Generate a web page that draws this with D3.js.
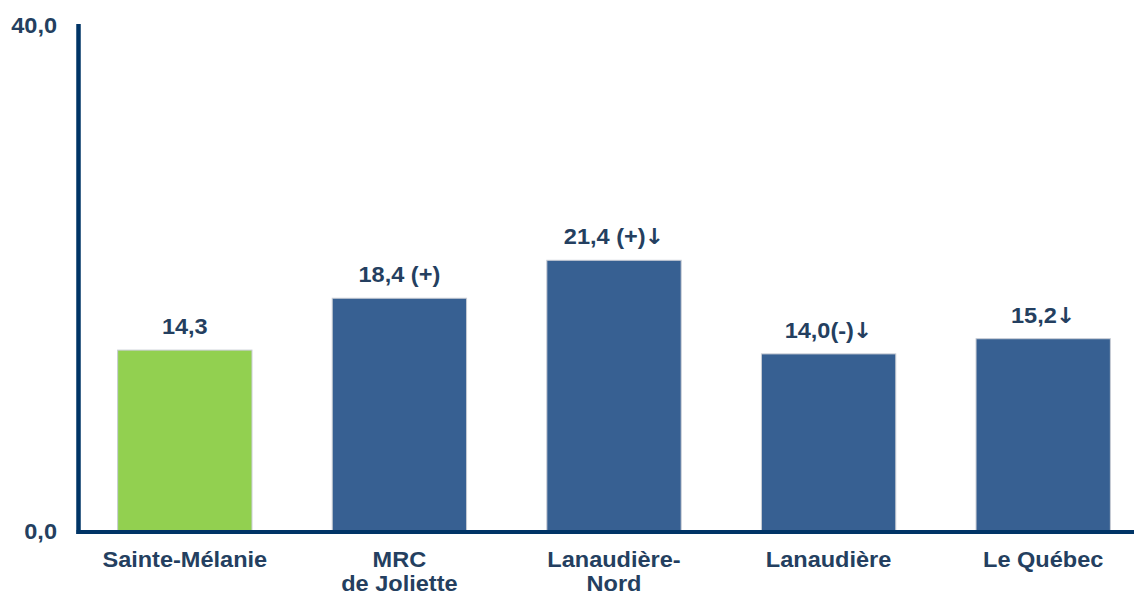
<!DOCTYPE html>
<html>
<head>
<meta charset="utf-8">
<script src="https://cdn.jsdelivr.net/npm/d3@7"></script>
<style>
  html, body { margin: 0; padding: 0; background: #fff; }
  svg { display: block; }
  text { font-family: "Liberation Sans", Arial, sans-serif; font-weight: bold; fill: #243F60; }
  tspan.arrow { font-family: "DejaVu Sans", sans-serif; font-weight: bold; }
</style>
</head>
<body>
<svg id="chart" width="1134" height="596"></svg>
<script>
const categories = [["Sainte-Mélanie"], ["MRC", "de Joliette"], ["Lanaudière-", "Nord"], ["Lanaudière"], ["Le Québec"]];
const values = [14.3, 18.4, 21.4, 14.0, 15.2];
const valueLabels = ["14,3", "18,4 (+)", "21,4 (+)", "14,0(-)", "15,2"];
const valueArrows = ["", "", "↓", "↓", "↓"];
const barColors = ["#92D050", "#376092", "#376092", "#376092", "#376092"];
const yTicks = [0, 40];

const W = 1134, H = 596;
const plot = { left: 79, right: 1149, top: 25, bottom: 531 };
const svg = d3.select("#chart");

const keys = categories.map(c => c.join(" "));
const x = d3.scaleBand().domain(keys).range([plot.left, plot.right]).paddingInner(0.374).paddingOuter(0.18);
const y = d3.scaleLinear().domain([0, 40]).range([plot.bottom, plot.top]);
const fmt = d3.formatLocale({ decimal: ",", thousands: " ", grouping: [3], currency: ["", "$"] }).format(".1f");

const data = keys.map((k, i) => ({ key: k, lines: categories[i], v: values[i], label: valueLabels[i], arrow: valueArrows[i], color: barColors[i] }));

// bars
svg.append("g").selectAll("rect").data(data).join("rect")
  .attr("x", d => x(d.key))
  .attr("y", d => y(d.v))
  .attr("width", x.bandwidth())
  .attr("height", d => y(0) - y(d.v))
  .attr("fill", d => d.color)
  .attr("stroke", "#C8CCD4")
  .attr("stroke-width", 1);

// value labels
const vl = svg.append("g").selectAll("text").data(data).join("text")
  .attr("transform", d => `translate(${x(d.key) + x.bandwidth() / 2},${y(d.v) - 16}) scale(1.07,1)`)
  .attr("text-anchor", "middle")
  .style("font-size", "22px");
vl.append("tspan").text(d => d.label);
vl.append("tspan").attr("class", "arrow").style("font-size", "22px").attr("dx", -1).text(d => d.arrow);

// category labels
const cat = svg.append("g").selectAll("text").data(data).join("text")
  .attr("transform", d => `translate(${x(d.key) + x.bandwidth() / 2},${y(0) + 36}) scale(1.07,1)`)
  .attr("text-anchor", "middle")
  .style("font-size", "22px");
cat.selectAll("tspan").data(d => d.lines).join("tspan")
  .attr("x", 0)
  .attr("dy", (d, i) => i === 0 ? 0 : 24)
  .text(d => d);

// y axis labels
svg.append("g").selectAll("text").data(yTicks).join("text")
  .attr("transform", d => `translate(57,${y(d) + 8}) scale(1.07,1)`)
  .attr("text-anchor", "end")
  .style("font-size", "22px")
  .text(d => fmt(d));

// axes lines
svg.append("line")
  .attr("x1", plot.left - 0.5).attr("x2", plot.left - 0.5)
  .attr("y1", y(40) - 1).attr("y2", y(0) + 3)
  .attr("stroke", "#003466").attr("stroke-width", 4.5);
svg.append("line")
  .attr("x1", plot.left - 2.5).attr("x2", W)
  .attr("y1", y(0) + 1).attr("y2", y(0) + 1)
  .attr("stroke", "#003466").attr("stroke-width", 4);
</script>
</body>
</html>
